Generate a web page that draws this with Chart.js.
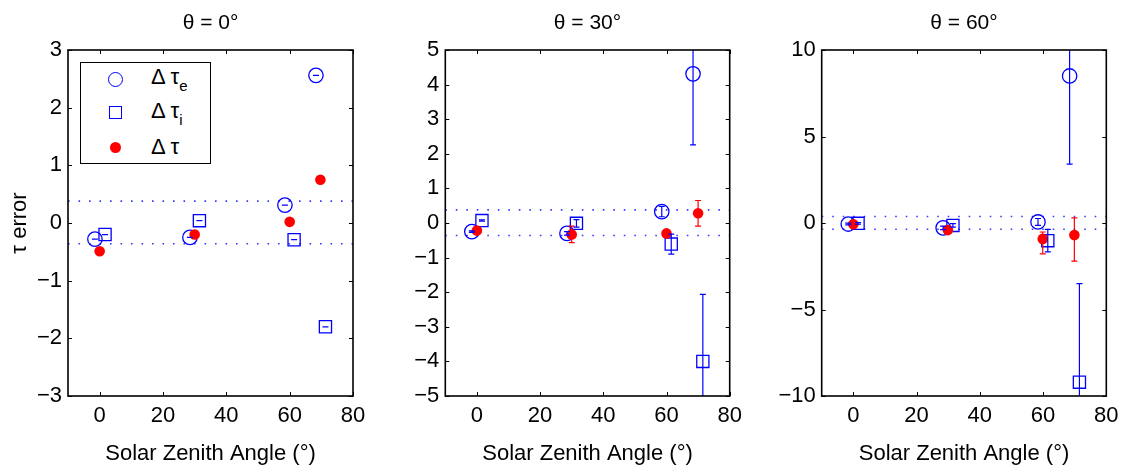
<!DOCTYPE html>
<html>
<head>
<meta charset="utf-8">
<script src="https://cdn.jsdelivr.net/npm/chart.js@4.4.0/dist/chart.umd.min.js"></script>
<style>
  body { margin: 0; background: #fff; width: 1123px; height: 468px; position: relative; overflow: hidden;
         font-family: "Liberation Sans", Arial, sans-serif; }
  canvas { position: absolute; top: 0; }
  #legend { position: absolute; left: 80px; top: 62px; width: 131px; height: 102px; box-sizing: border-box;
            border: 1.5px solid #000; background: #fff; }
  #legend .sym { position: absolute; box-sizing: border-box; }
  #legend .txt { position: absolute; left: 70px; font-size: 22px; line-height: 24px; color: #000; white-space: nowrap; }
  #legend sub { font-size: 15px; vertical-align: baseline; position: relative; top: 7px; }
</style>
</head>
<body>
<canvas id="p0" width="421" height="468" style="left:0px"></canvas>
<canvas id="p1" width="425" height="468" style="left:375px"></canvas>
<canvas id="p2" width="428" height="468" style="left:750px"></canvas>
<div id="legend">
  <div class="sym" style="left:27px;top:9px;width:15px;height:15px;border:1.3px solid #0000ff;border-radius:50%"></div>
  <div class="sym" style="left:28px;top:43px;width:13px;height:13px;border:1.3px solid #0000ff"></div>
  <div class="sym" style="left:29px;top:79px;width:11px;height:11px;border-radius:50%;background:#ff0000"></div>
  <div class="txt" style="top:2px">Δ τ<sub>e</sub></div>
  <div class="txt" style="top:36px">Δ τ<sub>i</sub></div>
  <div class="txt" style="top:72px">Δ τ</div>
</div>
<script>
// axis setup
var xTicks = [0, 20, 40, 60, 80];
var titles = ["θ = 0°", "θ = 30°", "θ = 60°"];
var yRanges = [[-3, 3], [-5, 5], [-10, 10]];
var yTickSets = [
  [-3, -2, -1, 0, 1, 2, 3],
  [-5, -4, -3, -2, -1, 0, 1, 2, 3, 4, 5],
  [-10, -5, 0, 5, 10]
];
var bandLevels = [0.38, -0.36];

// Δτe (open circles)
var eX = [[-1.5, 28.5, 58.5, 68.3], [-1.6, 28.5, 58.5, 68.4], [-1.6, 28.4, 58.4, 68.4]];
var eY = [[-0.28, -0.25, 0.31, 2.56], [-0.25, -0.30, 0.33, 4.31], [-0.06, -0.28, 0.06, 8.5]];
var eErr = [[0, 0, 0, 0], [0.02, 0.05, 0.15, 2.05], [0.05, 0.1, 0.2, 5.1]];

// Δτi (open squares)
var iX = [[1.7, 31.5, 61.4, 71.3], [1.6, 31.5, 61.5, 71.5], [1.5, 31.5, 61.5, 71.5]];
var iY = [[-0.20, 0.04, -0.29, -1.80], [0.07, -0.01, -0.61, -4.0], [-0.02, -0.14, -1.02, -9.2]];
var iErr = [[0, 0, 0, 0], [0.02, 0.11, 0.29, 1.94], [0.05, 0.1, 0.65, 5.7]];

// Δτ (red dots), lower / upper error
var tX = [[0, 30, 60, 69.7], [0, 30, 60, 70], [0, 29.9, 59.9, 69.9]];
var tY = [[-0.49, -0.20, 0.02, 0.75], [-0.22, -0.33, -0.30, 0.28], [-0.07, -0.41, -0.92, -0.70]];
var tErrLo = [[0, 0, 0, 0], [0.05, 0.24, 0.05, 0.37], [0.05, 0.1, 0.87, 1.5]];
var tErrHi = [[0, 0, 0, 0], [0.05, 0.24, 0.05, 0.37], [0.05, 0.1, 0.4, 1.0]];

var FONT = { family: "'Liberation Sans', Arial, sans-serif", size: 22 };
// y axis width; the same space is left on the right so titles centre on the plot
var axisW = [68, 70.3, 71.7];

function pts(xs, ys) {
  return xs.map(function (x, k) { return { x: x, y: ys[k] }; });
}

var errorBars = {
  id: "errorBars",
  afterDatasetsDraw: function (chart) {
    var ctx = chart.ctx, a = chart.chartArea;
    var xs = chart.scales.x, ys = chart.scales.y;
    ctx.save();
    ctx.beginPath();
    ctx.rect(a.left, a.top, a.width, a.height);
    ctx.clip();
    chart.data.datasets.forEach(function (ds) {
      if (!ds.errLo) return;
      ctx.strokeStyle = ds.borderColor;
      ctx.lineWidth = 1.2;
      ds.data.forEach(function (p, k) {
        var px = xs.getPixelForValue(p.x);
        var lo = ys.getPixelForValue(p.y - ds.errLo[k]);
        var hi = ys.getPixelForValue(p.y + ds.errHi[k]);
        ctx.beginPath();
        ctx.moveTo(px, lo); ctx.lineTo(px, hi);
        ctx.moveTo(px - 3, lo); ctx.lineTo(px + 3, lo);
        ctx.moveTo(px - 3, hi); ctx.lineTo(px + 3, hi);
        ctx.stroke();
      });
    });
    ctx.restore();
  }
};

var frame = {
  id: "frame",
  afterDraw: function (chart) {
    var ctx = chart.ctx, a = chart.chartArea;
    var xs = chart.scales.x, ys = chart.scales.y;
    ctx.save();
    ctx.strokeStyle = "#000";
    ctx.lineWidth = 1;
    ctx.beginPath();
    xs.ticks.forEach(function (t) {
      var px = Math.round(xs.getPixelForValue(t.value)) + 0.5;
      ctx.moveTo(px, a.bottom); ctx.lineTo(px, a.bottom - 4);
      ctx.moveTo(px, a.top); ctx.lineTo(px, a.top + 4);
    });
    ys.ticks.forEach(function (t) {
      var py = Math.round(ys.getPixelForValue(t.value)) + 0.5;
      ctx.moveTo(a.left, py); ctx.lineTo(a.left + 4, py);
      ctx.moveTo(a.right, py); ctx.lineTo(a.right - 4, py);
    });
    ctx.stroke();
    ctx.lineWidth = 1.6;
    ctx.strokeRect(a.left, a.top, a.width, a.height);
    ctx.restore();
  }
};

function makePanel(n) {
  var yTicks = yTickSets[n];
  var bands = bandLevels.map(function (lv) {
    return {
      type: "line",
      data: [{ x: -10, y: lv }, { x: 80, y: lv }],
      borderColor: "#3a3aff",
      borderWidth: 1.6,
      borderDash: [1.6, 8.9],
      pointRadius: 0,
      fill: false
    };
  });
  var datasets = [
    {
      data: pts(tX[n], tY[n]), errLo: tErrLo[n], errHi: tErrHi[n],
      borderColor: "#ff0000", backgroundColor: "#ff0000",
      pointStyle: "circle", pointRadius: 5.3, borderWidth: 0
    },
    {
      data: pts(eX[n], eY[n]), errLo: eErr[n], errHi: eErr[n],
      borderColor: "#0000ff", backgroundColor: "rgba(0,0,0,0)",
      pointStyle: "circle", pointRadius: 7.2, borderWidth: 1.3
    },
    {
      data: pts(iX[n], iY[n]), errLo: iErr[n], errHi: iErr[n],
      borderColor: "#0000ff", backgroundColor: "rgba(0,0,0,0)",
      pointStyle: "rect", pointRadius: 8.6, borderWidth: 1.3
    }
  ].concat(bands);

  new Chart(document.getElementById("p" + n), {
    type: "scatter",
    data: { datasets: datasets },
    plugins: [errorBars, frame],
    options: {
      responsive: false,
      animation: false,
      layout: { padding: { left: 0, right: axisW[n], top: 0, bottom: 0 } },
      plugins: {
        legend: { display: false },
        tooltip: { enabled: false },
        title: {
          display: true, text: titles[n], color: "#000", fullSize: false,
          font: { family: FONT.family, size: 21, weight: "normal" },
          padding: { top: 10.5, bottom: 14.3 }
        }
      },
      scales: {
        x: {
          type: "linear", min: -10, max: 80,
          grid: { display: false, drawTicks: false },
          border: { display: false },
          afterBuildTicks: function (s) { s.ticks = xTicks.map(function (v) { return { value: v }; }); },
          afterFit: function (s) { s.height = 72; },
          ticks: { color: "#000", font: FONT, padding: 7, maxRotation: 0 },
          title: {
            display: true, text: "Solar Zenith Angle (°)", color: "#000",
            font: FONT, padding: { top: 0, bottom: 1 }
          }
        },
        y: {
          type: "linear", min: yRanges[n][0], max: yRanges[n][1],
          grid: { display: false, drawTicks: false },
          border: { display: false },
          afterBuildTicks: function (s) { s.ticks = yTicks.map(function (v) { return { value: v }; }); },
          afterFit: function (s) { s.width = axisW[n]; },
          ticks: {
            color: "#000", font: FONT, padding: 6,
            callback: function (v) { return String(v).replace("-", "\u2212"); }
          },
          title: {
            display: n === 0, text: "τ error", color: "#000",
            font: FONT, padding: { top: 7, bottom: 0 }
          }
        }
      }
    }
  });
}

[0, 1, 2].forEach(makePanel);
</script>
</body>
</html>
